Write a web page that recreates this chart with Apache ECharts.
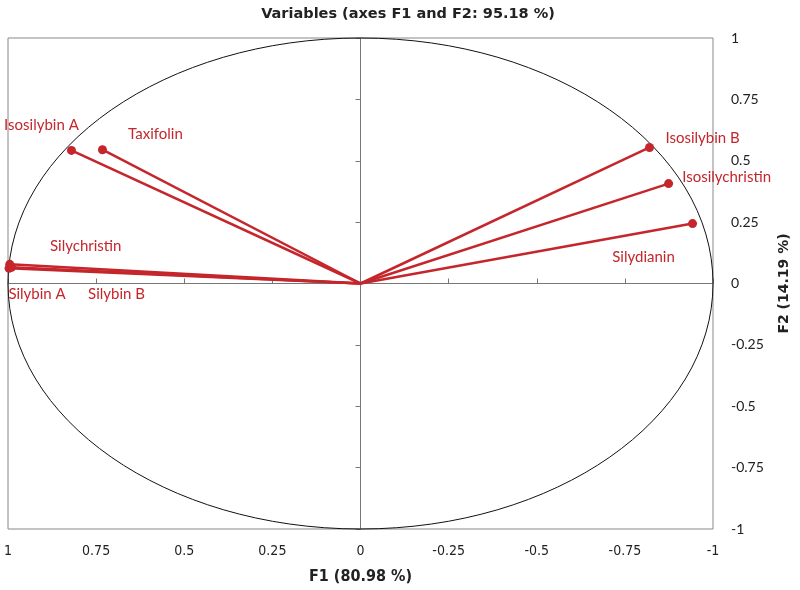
<!DOCTYPE html>
<html>
<head>
<meta charset="utf-8">
<script src="https://cdn.jsdelivr.net/npm/echarts@6/dist/echarts.min.js"></script>
<style>
html, body { margin: 0; padding: 0; background: #fff; }
#main { width: 800px; height: 590px; }
</style>
</head>
<body>
<div id="main"></div>
<script>
// variables and their coordinates on F1 / F2
var names = ['Isosilybin A', 'Taxifolin', 'Silychristin', 'Silybin A', 'Silybin B', 'Isosilybin B', 'Isosilychristin', 'Silydianin'];
var f1 = [0.820, 0.732, 0.995, 0.997, 0.990, -0.820, -0.874, -0.942];
var f2 = [0.542, 0.545, 0.078, 0.062, 0.066, 0.554, 0.407, 0.244];

// where each label sits relative to its point (pixels)
var labelOffsets = [[-30, -25], [53, -16], [76, -18], [28, 26], [105, 27], [53, -9], [58, -6], [-49, 34]];

var red = '#C4262C';
var narrow = "'DejaVu Sans Condensed', 'Liberation Sans', sans-serif";
var myChart = echarts.init(document.getElementById('main'));

var points = [], segs = [];
for (var i = 0; i < names.length; i++) {
	points.push({
		name: names[i],
		value: [f1[i], f2[i]],
		label: { offset: labelOffsets[i] }
	});
	segs.push({ coords: [[0, 0], [f1[i], f2[i]]] });
}

function fmt(v) { return String(v); }

var option = {
	animation: false,
	title: {
		text: 'Variables (axes F1 and F2: 95.18 %)',
		left: 403, top: 2, textAlign: 'center',
		textStyle: { fontFamily: 'DejaVu Sans', fontSize: 14.5, fontWeight: 'bold', color: '#222' }
	},
	grid: {
		left: 8, right: 87, top: 38, bottom: 61,
		show: true, borderColor: '#888', borderWidth: 1
	},
	xAxis: [{
		type: 'value', min: -1, max: 1, interval: 0.25, inverse: true,
		axisLine: { onZero: true, onZeroAxisIndex: 0, lineStyle: { color: '#777' } },
		axisTick: { show: true, length: 5, inside: true, lineStyle: { color: '#777' } },
		axisLabel: { show: false },
		splitLine: { show: false }
	}, {
		type: 'value', min: -1, max: 1, interval: 0.25, inverse: true, position: 'bottom',
		axisLine: { show: false, onZero: false },
		axisTick: { show: false },
		axisLabel: {
			margin: 15, formatter: fmt,
			fontFamily: narrow, fontSize: 14, color: '#222'
		},
		splitLine: { show: false },
		name: 'F1 (80.98 %)', nameLocation: 'middle', nameGap: 40,
		nameTextStyle: { fontFamily: narrow, fontSize: 16, fontWeight: 'bold', color: '#222' }
	}],
	yAxis: [{
		type: 'value', min: -1, max: 1, interval: 0.25,
		axisLine: { onZero: true, onZeroAxisIndex: 0, lineStyle: { color: '#777' } },
		axisTick: { show: true, length: 5, lineStyle: { color: '#777' } },
		axisLabel: { show: false },
		splitLine: { show: false }
	}, {
		type: 'value', min: -1, max: 1, interval: 0.25, position: 'right',
		axisLine: { show: false, onZero: false },
		axisTick: { show: false },
		axisLabel: {
			margin: 18, formatter: fmt,
			fontFamily: 'Lato', fontSize: 14, color: '#222'
		},
		splitLine: { show: false },
		name: 'F2 (14.19 %)', nameLocation: 'middle', nameGap: 64, nameRotate: 90,
		nameTextStyle: { fontFamily: 'DejaVu Sans', fontSize: 14, fontWeight: 'bold', color: '#222' }
	}],
	series: [{
		// unit correlation circle
		type: 'custom',
		xAxisIndex: 0, yAxisIndex: 0,
		silent: true,
		data: [[0, 0]],
		renderItem: function (params, api) {
			var c = api.coord([0, 0]);
			var s = api.size([1, 1]);
			return {
				type: 'ellipse',
				shape: { cx: c[0], cy: c[1], rx: s[0], ry: s[1] },
				style: { fill: null, stroke: '#111', lineWidth: 1 }
			};
		},
		z: 1
	}, {
		type: 'lines',
		coordinateSystem: 'cartesian2d',
		xAxisIndex: 0, yAxisIndex: 0,
		data: segs,
		lineStyle: { color: red, width: 2.5, opacity: 1 },
		z: 3
	}, {
		type: 'scatter',
		xAxisIndex: 0, yAxisIndex: 0,
		data: points,
		symbolSize: 9,
		itemStyle: { color: red, opacity: 1 },
		label: {
			show: true, position: 'inside',
			formatter: '{b}',
			color: red, fontFamily: 'Lato', fontSize: 15
		},
		z: 4
	}]
};
myChart.setOption(option);
</script>
</body>
</html>
